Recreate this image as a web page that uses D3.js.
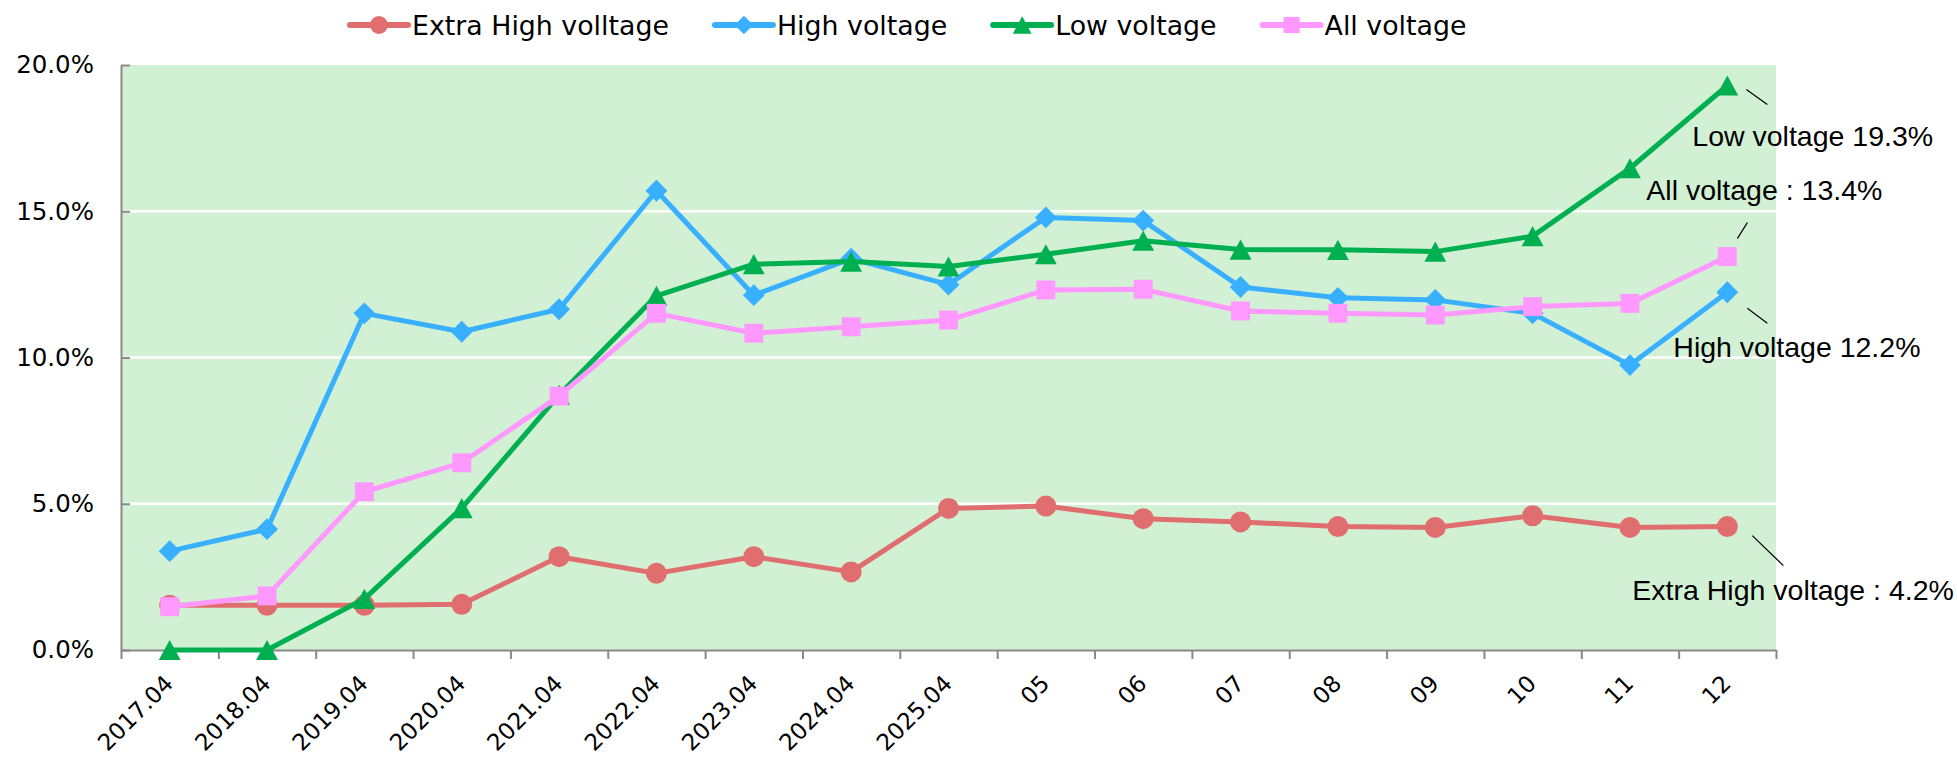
<!DOCTYPE html>
<html>
<head>
<meta charset="utf-8">
<script src="https://cdn.jsdelivr.net/npm/d3@7"></script>
<style>
body{margin:0;background:#fff;}
</style>
</head>
<body>
<div id="app"></div>
<script>
// categories and series (%)
const months = ["2017.04","2018.04","2019.04","2020.04","2021.04","2022.04","2023.04","2024.04","2025.04","05","06","07","08","09","10","11","12"];
const extraHigh = [1.53,1.53,1.53,1.56,3.19,2.62,3.19,2.67,4.84,4.92,4.49,4.38,4.22,4.19,4.59,4.19,4.22];
const highV = [3.38,4.13,11.51,10.88,11.65,15.70,12.13,13.38,12.49,14.79,14.68,12.41,12.04,11.97,11.51,9.74,12.23];
const lowV = [0,0,1.75,4.85,8.72,12.11,13.19,13.28,13.11,13.53,13.99,13.69,13.68,13.62,14.15,16.47,19.3];
const allV = [1.48,1.85,5.41,6.40,8.68,11.51,10.83,11.05,11.28,12.31,12.33,11.59,11.51,11.45,11.74,11.85,13.45];
const seriesNames = ["Extra High volltage","High voltage","Low voltage","All voltage"];
const endLabels = ["Extra High voltage : 4.2%","High voltage 12.2%","Low voltage 19.3%","All voltage : 13.4%"];
const yTicks = [0,5,10,15,20];

const w = 1957, h = 760;
const m = {left:121, right:181, top:65, bottom:110};
const colors = ["#e06e6e","#38b0ff","#00b050","#ff99ff"];
const shapes = ["circle","diamond","triangle","square"];
const series = [extraHigh, highV, lowV, allV];

const svg = d3.select("#app").append("svg")
    .attr("width", w)
    .attr("height", h)
    .style("display","block")

const x = d3.scaleBand().domain(months).range([m.left, w - m.right])
const cx = d => x(d) + x.bandwidth()/2
const y = d3.scaleLinear().domain([0,20]).range([h - m.bottom, m.top])

svg.append("rect")
    .attr("x", m.left).attr("y", m.top)
    .attr("width", w - m.left - m.right)
    .attr("height", h - m.top - m.bottom)
    .attr("fill", "#d2f0d3")

svg.append("g")
    .selectAll("line")
    .data(yTicks.filter(d => d > 0 && d < 20))
    .enter().append("line")
    .attr("x1", m.left).attr("x2", w - m.right)
    .attr("y1", d => y(d)).attr("y2", d => y(d))
    .attr("stroke", "#fff").attr("stroke-width", 2.5)

// x axis: tick marks on band edges, labels in band centres
const edges = d3.scaleLinear().domain([0, months.length]).range([m.left, w - m.right])
const xTicks = svg.append("g")
    .attr("transform", "translate(0," + (h - m.bottom) + ")")
    .call(d3.axisBottom(edges).ticks(months.length).tickFormat("").tickSizeInner(9).tickSizeOuter(0))
xTicks.selectAll("line, path").attr("stroke", "#898989").attr("stroke-width", 2)

const xLab = svg.append("g")
    .attr("transform", "translate(0," + (h - m.bottom) + ")")
    .call(d3.axisBottom(x).tickSize(0).tickPadding(0))
xLab.select(".domain").remove()
xLab.selectAll("text")
    .attr("y", null).attr("dy", null)
    .attr("text-anchor", "end")
    .attr("transform", "translate(5,35) rotate(-45)")
    .style("font-family", "'DejaVu Sans', Verdana, sans-serif")
    .style("font-size", "23px")
    .attr("fill", "#000")

const yAx = svg.append("g")
    .attr("transform", "translate(" + m.left + ",0)")
    .call(d3.axisLeft(y).tickValues(yTicks).tickSizeInner(-9).tickSizeOuter(0).tickPadding(27)
        .tickFormat(d => d.toFixed(1) + "%"))
yAx.selectAll("line, path").attr("stroke", "#898989").attr("stroke-width", 2)
yAx.selectAll("text")
    .style("font-family", "'DejaVu Sans', Verdana, sans-serif")
    .style("font-size", "24.5px")
    .attr("fill", "#000")

function marker(g, shape, px, py, s, color){
    if(shape == "circle"){
        g.append("circle").attr("cx", px).attr("cy", py).attr("r", s*0.5).attr("fill", color)
    } else if(shape == "square"){
        g.append("rect").attr("x", px - s*0.45).attr("y", py - s*0.45).attr("width", s*0.9).attr("height", s*0.9).attr("fill", color)
    } else if(shape == "diamond"){
        const r = s*0.52
        g.append("path").attr("d", `M${px},${py-r}L${px+r},${py}L${px},${py+r}L${px-r},${py}Z`).attr("fill", color)
    } else {
        const hw = s*0.52, hh = s*0.48
        g.append("path").attr("d", `M${px},${py-hh}L${px+hw},${py+hh}L${px-hw},${py+hh}Z`).attr("fill", color)
    }
}

const line = d3.line().x((d,i) => cx(months[i])).y(d => y(d))

series.forEach((vals, k) => {
    const g = svg.append("g")
    g.append("path")
        .datum(vals)
        .attr("d", line)
        .attr("fill", "none")
        .attr("stroke", colors[k])
        .attr("stroke-width", 5)
        .attr("stroke-linejoin", "round")
    vals.forEach((v,i) => marker(g, shapes[k], cx(months[i]), y(v), 21, colors[k]))
})

// end-of-line notes
const noteOffsets = [[-95,73,25,9,56,39],[-54,65,20,16,40,31],[-35,61,19,4,40,19],[-81,-57,20,-34,10,-18]]
series.forEach((vals, k) => {
    const px = cx(months[months.length-1]), py = y(vals[vals.length-1])
    const o = noteOffsets[k]
    svg.append("line")
        .attr("x1", px + o[2]).attr("y1", py + o[3])
        .attr("x2", px + o[4]).attr("y2", py + o[5])
        .attr("stroke", "#000").attr("stroke-width", 1.2)
    svg.append("text")
        .attr("x", px + o[0]).attr("y", py + o[1])
        .style("font-family", "'Liberation Sans', Arial, sans-serif")
        .style("font-size", "28.5px")
        .attr("fill", "#000")
        .text(endLabels[k])
})

// legend
const legend = svg.append("g").attr("id", "legend")
let lx = 350
seriesNames.forEach((name, k) => {
    const g = legend.append("g")
    g.append("line")
        .attr("x1", lx).attr("x2", lx + 58)
        .attr("y1", 25).attr("y2", 25)
        .attr("stroke", colors[k]).attr("stroke-width", 6).attr("stroke-linecap", "round")
    marker(g, shapes[k], lx + 29, 25, 18, colors[k])
    const t = g.append("text")
        .attr("x", lx + 62).attr("y", 35)
        .style("font-family", "'DejaVu Sans', Verdana, sans-serif")
        .style("font-size", "26.8px")
        .attr("fill", "#000")
        .text(name)
    lx += 62 + t.node().getComputedTextLength() + 46
})
</script>
</body>
</html>
